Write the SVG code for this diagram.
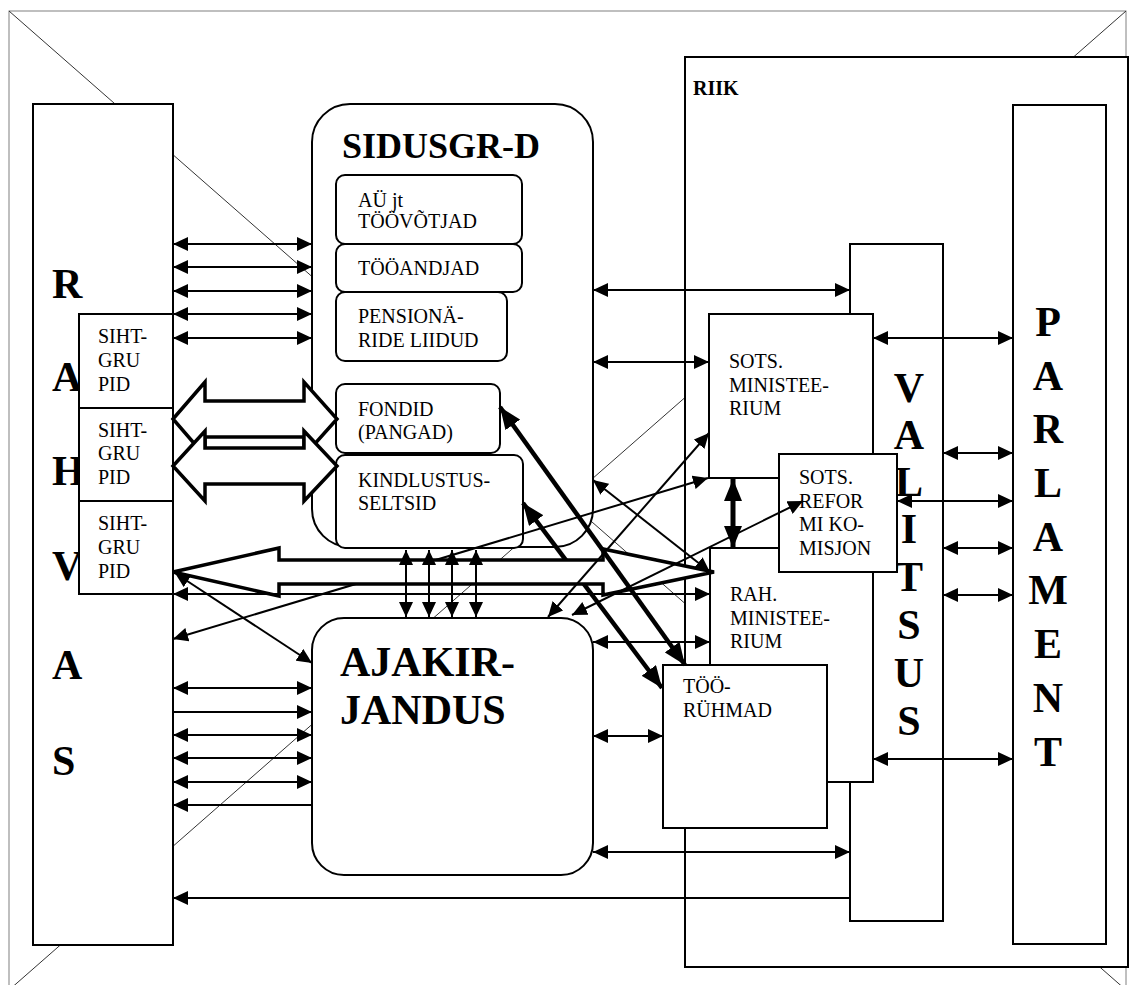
<svg xmlns="http://www.w3.org/2000/svg" width="1129" height="985" viewBox="0 0 1129 985">
<defs>
<style>
.box{fill:#fff;stroke:#000;stroke-width:2}
.t{font-family:"Liberation Serif","Times New Roman",serif;font-size:20px;fill:#000}
.b{font-family:"Liberation Serif","Times New Roman",serif;font-weight:bold;fill:#000}
.big{font-size:42px}
.c{stroke:#000;stroke-width:2;fill:none}
.k{stroke:#000;stroke-width:4.5;fill:none}
.d{marker-start:url(#ah);marker-end:url(#ah)}
.e{marker-end:url(#ah)}
.dk{marker-start:url(#ahk);marker-end:url(#ahk)}
.blk{fill:#fff;stroke:#000;stroke-width:3.5;stroke-linejoin:miter}
.diag{stroke:#333;stroke-width:1;fill:none}
</style>
<marker id="ah" viewBox="0 0 15 14" refX="15" refY="7" markerWidth="15" markerHeight="14" markerUnits="userSpaceOnUse" orient="auto-start-reverse"><path d="M0,0L15,7L0,14z" fill="#000"/></marker>
<marker id="ahk" viewBox="0 0 22 18" refX="22" refY="9" markerWidth="22" markerHeight="18" markerUnits="userSpaceOnUse" orient="auto-start-reverse"><path d="M0,0L22,9L0,18z" fill="#000"/></marker>
</defs>
<rect x="0" y="0" width="1129" height="985" fill="#fff"/>
<g id="frame">
<rect x="9" y="11" width="1117" height="979" fill="#fff" stroke="#808080" stroke-width="1"/>
<line class="diag" x1="9" y1="11" x2="1126" y2="990"/>
<line class="diag" x1="1126" y1="11" x2="9" y2="990"/>
</g>
<g id="riik">
<rect class="box" x="685" y="57" width="443" height="910"/>
<text class="b" x="693" y="95" font-size="20">RIIK</text>
</g>
<g id="valitsus">
<rect class="box" x="850" y="244" width="93" height="677"/>
<g class="b big" text-anchor="middle">
<text x="909" y="402">V</text><text x="909" y="449">A</text><text x="909" y="496">L</text><text x="909" y="543">I</text>
<text x="909" y="591">T</text><text x="909" y="639">S</text><text x="909" y="687">U</text><text x="909" y="735">S</text>
</g>
</g>
<g id="sots-ministeerium">
<rect class="box" x="709" y="314" width="164" height="164"/>
<text class="t" x="729" y="368">SOTS.</text><text class="t" x="729" y="392">MINISTEE-</text><text class="t" x="729" y="415">RIUM</text>
</g>
<g id="rah-ministeerium">
<rect class="box" x="710" y="548" width="163" height="234"/>
<text class="t" x="730" y="601">RAH.</text><text class="t" x="730" y="625">MINISTEE-</text><text class="t" x="730" y="648">RIUM</text>
</g>
<g id="sots-reformi-komisjon">
<rect class="box" x="779" y="454" width="118" height="118"/>
<text class="t" x="799" y="484">SOTS.</text><text class="t" x="799" y="508">REFOR</text><text class="t" x="799" y="531">MI KO-</text><text class="t" x="799" y="555">MISJON</text>
</g>
<g id="toorühmad">
<rect class="box" x="663" y="665" width="164" height="163"/>
<text class="t" x="683" y="693">TÖÖ-</text><text class="t" x="683" y="717">RÜHMAD</text>
</g>
<g id="parlament">
<rect class="box" x="1013" y="105" width="93" height="839"/>
<g class="b big" text-anchor="middle">
<text x="1048" y="336">P</text><text x="1048" y="390">A</text><text x="1048" y="443">R</text><text x="1048" y="497">L</text><text x="1048" y="551">A</text>
<text x="1048" y="604">M</text><text x="1048" y="658">E</text><text x="1048" y="712">N</text><text x="1048" y="766">T</text>
</g>
</g>
<g id="rahvas">
<rect class="box" x="33" y="104" width="140" height="841"/>
<g class="b big">
<text x="52" y="298">R</text><text x="52" y="391">A</text><text x="52" y="485">H</text><text x="52" y="580">V</text><text x="52" y="679">A</text><text x="52" y="775">S</text>
</g>
</g>
<g id="sihtgrupid-1">
<rect class="box" x="79" y="314" width="94" height="94"/>
<text class="t" x="98" y="343">SIHT-</text><text class="t" x="98" y="367">GRU</text><text class="t" x="98" y="391">PID</text>
</g>
<g id="sihtgrupid-2">
<rect class="box" x="79" y="408" width="94" height="93"/>
<text class="t" x="98" y="437">SIHT-</text><text class="t" x="98" y="460">GRU</text><text class="t" x="98" y="484">PID</text>
</g>
<g id="sihtgrupid-3">
<rect class="box" x="79" y="501" width="94" height="93"/>
<text class="t" x="98" y="530">SIHT-</text><text class="t" x="98" y="554">GRU</text><text class="t" x="98" y="578">PID</text>
</g>
<g id="sidusgrupid">
<rect class="box" x="312" y="104" width="281" height="443" rx="38"/>
<text class="b" x="342" y="158" font-size="36">SIDUSGR-D</text>
</g>
<g id="ay-toovotjad">
<rect class="box" x="336" y="175" width="186" height="69" rx="9"/>
<text class="t" x="358" y="207">AÜ jt</text><text class="t" x="358" y="228">TÖÖVÕTJAD</text>
</g>
<g id="tooandjad">
<rect class="box" x="336" y="244" width="186" height="48" rx="9"/>
<text class="t" x="358" y="275">TÖÖANDJAD</text>
</g>
<g id="pensionaride-liidud">
<rect class="box" x="336" y="292" width="171" height="69" rx="9"/>
<text class="t" x="358" y="323">PENSIONÄ-</text><text class="t" x="358" y="347">RIDE LIIDUD</text>
</g>
<g id="fondid">
<rect class="box" x="336" y="384" width="164" height="69" rx="9"/>
<text class="t" x="358" y="416">FONDID</text><text class="t" x="358" y="439">(PANGAD)</text>
</g>
<g id="kindlustusseltsid">
<rect class="box" x="336" y="455" width="187" height="93" rx="9"/>
<text class="t" x="358" y="487">KINDLUSTUS-</text><text class="t" x="358" y="510">SELTSID</text>
</g>
<g id="ajakirjandus">
<rect class="box" x="312" y="618" width="281" height="257" rx="32"/>
<text class="b big" x="340" y="676">AJAKIR-</text><text class="b big" x="340" y="724">JANDUS</text>
</g>
<g id="connectors">
<line class="c d" x1="173" y1="244" x2="312" y2="244"/>
<line class="c d" x1="173" y1="267" x2="312" y2="267"/>
<line class="c d" x1="173" y1="291" x2="312" y2="291"/>
<line class="c d" x1="173" y1="314" x2="312" y2="314"/>
<line class="c d" x1="173" y1="338" x2="312" y2="338"/>
<path class="blk" d="M173,419L205,382L205,401L304,401L304,382L337,419L304,456L304,437L205,437L205,456Z"/>
<path class="blk" d="M173,466L205,431L205,448L304,448L304,431L337,466L304,501L304,484L205,484L205,501Z"/>
<line class="c d" x1="173" y1="639" x2="708" y2="478"/>
<line class="k dk" x1="523" y1="503" x2="662" y2="688"/>
<path class="blk" stroke-width="4" d="M173,572L279,548L279,560L603,560L603,549L714,572L603,595L603,584L279,584L279,596Z"/>
<line class="c d" x1="406" y1="550" x2="406" y2="617"/>
<line class="c d" x1="429" y1="550" x2="429" y2="617"/>
<line class="c d" x1="452" y1="550" x2="452" y2="617"/>
<line class="c d" x1="476" y1="550" x2="476" y2="617"/>
<line class="k dk" x1="500" y1="407" x2="685" y2="665"/>
<line class="c d" x1="175" y1="573" x2="312" y2="663"/>
<line class="c d" x1="593" y1="480" x2="710" y2="572"/>
<line class="c d" x1="548" y1="617" x2="709" y2="433"/>
<line class="c d" x1="572" y1="615" x2="803" y2="501"/>
<line class="c d" x1="593" y1="290" x2="850" y2="290"/>
<line class="c d" x1="593" y1="362" x2="709" y2="362"/>
<line class="c d" x1="173" y1="594" x2="710" y2="594"/>
<line class="c d" x1="593" y1="642" x2="710" y2="642"/>
<line class="c d" x1="593" y1="736" x2="663" y2="736"/>
<line class="c d" x1="593" y1="852" x2="850" y2="852"/>
<line class="c e" x1="850" y1="898" x2="173" y2="898"/>
<line class="c d" x1="173" y1="688" x2="312" y2="688"/>
<line class="c e" x1="173" y1="712" x2="312" y2="712"/>
<line class="c d" x1="173" y1="735" x2="312" y2="735"/>
<line class="c d" x1="173" y1="758" x2="312" y2="758"/>
<line class="c d" x1="173" y1="782" x2="312" y2="782"/>
<line class="c e" x1="312" y1="805" x2="173" y2="805"/>
<line class="c d" x1="873" y1="338" x2="1013" y2="338"/>
<line class="c d" x1="943" y1="453" x2="1013" y2="453"/>
<line class="c d" x1="897" y1="501" x2="1013" y2="501"/>
<line class="c d" x1="943" y1="548" x2="1013" y2="548"/>
<line class="c d" x1="943" y1="595" x2="1013" y2="595"/>
<line class="c d" x1="873" y1="759" x2="1013" y2="759"/>
<line stroke="#000" stroke-width="5" marker-start="url(#ahk)" marker-end="url(#ahk)" x1="733" y1="479" x2="733" y2="548"/>
</g>
</svg>
